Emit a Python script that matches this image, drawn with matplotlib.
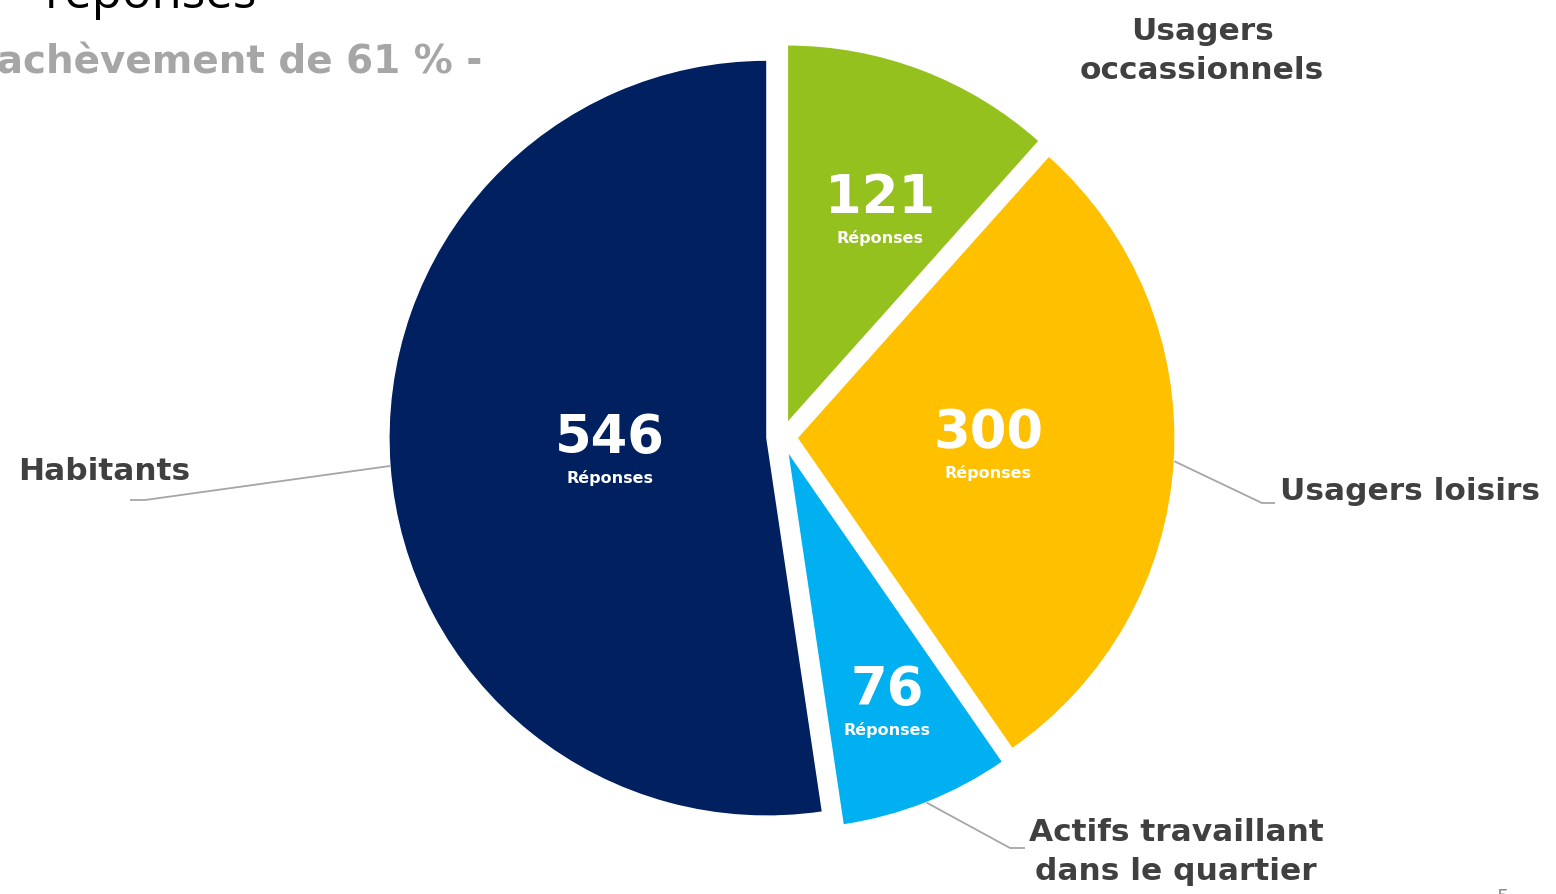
import numpy as np
import matplotlib
matplotlib.use("Agg")
import matplotlib.pyplot as plt

# Données du graphique
categories = ["Usagers\noccassionnels", "Usagers loisirs",
              "Actifs travaillant\ndans le quartier", "Habitants"]
reponses = [121, 300, 76, 546]
couleurs = ["#95C11F", "#FFC000", "#00B0F0", "#002060"]

W, H = 1556, 894
R = 378.0          # rayon du camembert en pixels
CX, CY = 782, 437  # centre en pixels (depuis le haut)


def px(x, y):
    # pixels -> coordonnées des données (rayon = 1)
    return (x - CX) / R, (CY - y) / R


fig = plt.figure(figsize=(W / 100, H / 100), dpi=100)
ax = fig.add_axes([0, 0, 1, 1])

wedges, _ = ax.pie(reponses, colors=couleurs, startangle=90, counterclock=False,
                   explode=[0.04] * 4, radius=1, center=(0, 0),
                   wedgeprops=dict(edgecolor="white", linewidth=1))
# pie() impose ses propres limites : on les remet après
ax.set_xlim(-CX / R, (W - CX) / R)
ax.set_ylim(-(H - CY) / R, CY / R)
ax.axis("off")

# Valeurs dans les parts
pos_valeurs = [(880, 198), (988, 433), (887, 690), (610, 438)]
for v, (x, y) in zip(reponses, pos_valeurs):
    ax.text(*px(x, y), str(v), color="white", fontsize=38, fontweight="bold",
            ha="center", va="center")
    ax.text(*px(x, y + 40), "Réponses", color="white", fontsize=11.5,
            fontweight="bold", ha="center", va="center")

# Étiquettes des catégories
gris_txt = "#404040"
ax.text(*px(1202, 51), categories[0], color=gris_txt, fontsize=22.5,
        fontweight="bold", ha="center", va="center", linespacing=1.42)
ax.text(*px(1280, 492), categories[1], color=gris_txt, fontsize=22.5,
        fontweight="bold", ha="left", va="center")
ax.text(*px(1176, 852), categories[2], color=gris_txt, fontsize=22.5,
        fontweight="bold", ha="center", va="center", linespacing=1.42)
ax.text(*px(18, 472), categories[3], color=gris_txt, fontsize=22.5,
        fontweight="bold", ha="left", va="center")

# Lignes de rappel depuis le milieu de l'arc
coudes = {1: [(1262, 503), (1275, 503)],
          2: [(1010, 848), (1025, 848)],
          3: [(145, 500), (130, 500)]}
for i, pts in coudes.items():
    w = wedges[i]
    mid = np.deg2rad((w.theta1 + w.theta2) / 2)
    cx, cy = w.center
    xs = [cx + np.cos(mid)] + [px(*p)[0] for p in pts]
    ys = [cy + np.sin(mid)] + [px(*p)[1] for p in pts]
    ax.plot(xs, ys, color="#A6A6A6", lw=1.3, solid_capstyle="butt")

# Titres (coupés en haut à gauche)
ax.text(*px(45, 8), "réponses", color="black", fontsize=35.5,
        family="Open Sans", ha="left", va="baseline")
ax.text(*px(482, 63), "Taux d'achèvement de 61 % -", color="#A6A6A6",
        fontsize=28, fontweight="bold", ha="right", va="center")

# numéro de page coupé
ax.text(*px(1497, 888), "5", color="#8C8C8C", fontsize=14, ha="left", va="top")

fig.savefig("out.png", dpi=100)
